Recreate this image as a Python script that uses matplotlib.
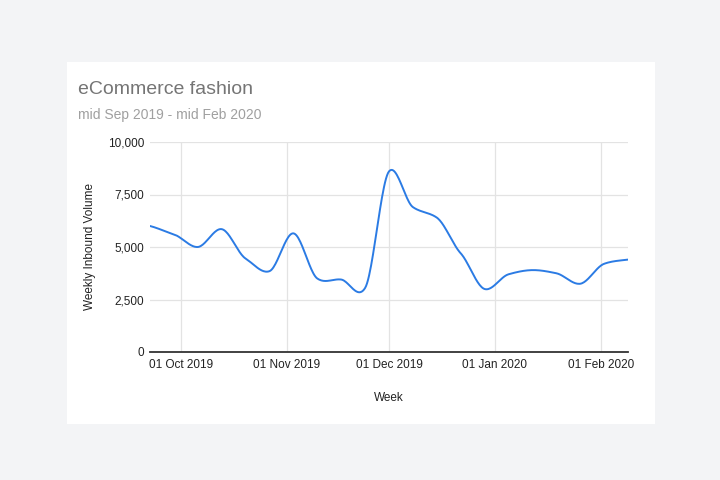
import numpy as np
import pandas as pd
import matplotlib
matplotlib.use("Agg")
import matplotlib.pyplot as plt
import matplotlib.dates as mdates
from matplotlib.patches import Rectangle
from matplotlib.ticker import FuncFormatter

plt.rcParams['font.family'] = ['Liberation Sans', 'DejaVu Sans']

# weekly data, Sundays from 22 Sep 2019 to 09 Feb 2020
weeks = pd.date_range("2019-09-22", "2020-02-09", freq="7D")
volume = [6000, 5600, 5000, 5850, 4450, 3850, 5650, 3500, 3450, 3050,
          8600, 6900, 6400, 4700, 3000, 3700, 3900, 3750, 3250, 4200, 4400]
month_ticks = ["2019-10-01", "2019-11-01", "2019-12-01", "2020-01-01", "2020-02-01"]


def smooth_curve(x, y, steps=24, k=0.36):
    # cardinal spline through the points (evenly spaced weeks)
    x = np.asarray(x, float)
    y = np.asarray(y, float)
    n = len(y)
    m = np.empty(n)
    m[1:-1] = k * (y[2:] - y[:-2])
    m[0] = 2 * k * (y[1] - y[0])
    m[-1] = 2 * k * (y[-1] - y[-2])
    t = np.linspace(0, 1, steps, endpoint=False)
    h00 = 2 * t**3 - 3 * t**2 + 1
    h10 = t**3 - 2 * t**2 + t
    h01 = -2 * t**3 + 3 * t**2
    h11 = t**3 - t**2
    xs, ys = [], []
    for i in range(n - 1):
        xs.append(x[i] + (x[i + 1] - x[i]) * t)
        ys.append(h00 * y[i] + h10 * m[i] + h01 * y[i + 1] + h11 * m[i + 1])
    xs.append([x[-1]])
    ys.append([y[-1]])
    return np.concatenate(xs), np.concatenate(ys)


fig = plt.figure(figsize=(7.2, 4.8), dpi=100)
fig.patch.set_facecolor('#f3f4f6')
card = Rectangle((67 / 720, 1 - 424 / 480), 588 / 720, 362 / 480,
                 transform=fig.transFigure, facecolor='white',
                 edgecolor='none', zorder=-5)
fig.patches.append(card)

ax = fig.add_axes([150 / 720, 1 - 352 / 480, 478 / 720, 210 / 480])
ax.set_facecolor('none')

xnum = mdates.date2num(weeks)
sx, sy = smooth_curve(xnum, volume)
ax.plot(sx, sy, color='#2b7be4', lw=1.4, zorder=3, solid_capstyle='round')

ax.set_xlim(xnum[0], xnum[-1])
ax.set_ylim(0, 10000)
ax.set_yticks([0, 2500, 5000, 7500, 10000])
ax.yaxis.set_major_formatter(FuncFormatter(lambda v, p: f"{int(v):,}"))
ax.set_xticks(mdates.date2num(pd.to_datetime(month_ticks)))
ax.xaxis.set_major_formatter(mdates.DateFormatter("%d %b %Y"))

ax.grid(True, color='#e3e3e3', lw=0.9, zorder=1)
for s in ['top', 'right', 'left']:
    ax.spines[s].set_visible(False)
ax.spines['bottom'].set_color('#333333')
ax.spines['bottom'].set_linewidth(1.3)
ax.spines['bottom'].set_zorder(4)
ax.tick_params(length=0, labelsize=8.5, colors='#222222', pad=5)
ax.tick_params(axis='y', pad=4)

ax.set_ylabel("Weekly Inbound Volume", fontsize=8.5, color='#222222', labelpad=9)
ax.set_xlabel("Week", fontsize=8.5, color='#222222', labelpad=15)

fig.text(78 / 720, 1 - 89 / 480, "eCommerce fashion", fontsize=14,
         color='#757575', va='center', ha='left')
fig.text(78 / 720, 1 - 115 / 480, "mid Sep 2019 - mid Feb 2020", fontsize=10,
         color='#a0a0a0', va='center', ha='left')

fig.savefig("out.png", dpi=100, facecolor=fig.get_facecolor())
